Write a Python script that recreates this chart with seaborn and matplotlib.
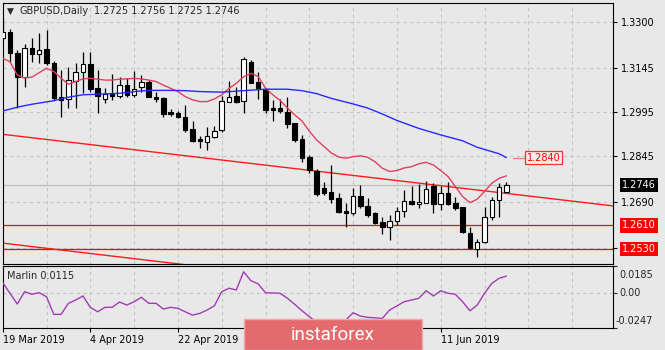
import numpy as np
import pandas as pd
import matplotlib
matplotlib.use("Agg")
import matplotlib.pyplot as plt
import matplotlib.transforms as mtrans
from matplotlib.patches import Rectangle
import seaborn as sns

# ---------------------------------------------------------------- data
symbol = "GBPUSD,Daily"
dates = pd.bdate_range("2019-03-19", periods=70)

opens = [1.3246, 1.3265, 1.3194, 1.3115, 1.3211, 1.3191, 1.3207, 1.3160, 1.3047, 1.3038,
         1.3101, 1.3130, 1.3158, 1.3075, 1.3038, 1.3058, 1.3050, 1.3086, 1.3052, 1.3079,
         1.3098, 1.3047, 1.3041, 1.2993, 1.2990, 1.2979, 1.2936, 1.2903, 1.2894, 1.2911,
         1.2932, 1.3030, 1.3050, 1.3033, 1.3163, 1.3098, 1.3072, 1.3007, 1.3007, 1.2996,
         1.2956, 1.2902, 1.2843, 1.2796, 1.2736, 1.2722, 1.2704, 1.2658, 1.2653, 1.2710,
         1.2676, 1.2651, 1.2623, 1.2604, 1.2626, 1.2659, 1.2694, 1.2683, 1.2687, 1.2744,
         1.2683, 1.2721, 1.2687, 1.2672, 1.2584, 1.2529, 1.2555, 1.2640, 1.2697, 1.2725]
highs = [1.3314, 1.3275, 1.3205, 1.3224, 1.3247, 1.3262, 1.3273, 1.3168, 1.3137, 1.3148,
         1.3160, 1.3197, 1.3197, 1.3137, 1.3075, 1.3124, 1.3115, 1.3111, 1.3135, 1.3120,
         1.3103, 1.3064, 1.3047, 1.3005, 1.2999, 1.3019, 1.2965, 1.2913, 1.2945, 1.2947,
         1.3049, 1.3101, 1.3081, 1.3180, 1.3171, 1.3132, 1.3075, 1.3036, 1.3039, 1.3045,
         1.2958, 1.2917, 1.2849, 1.2801, 1.2757, 1.2815, 1.2719, 1.2685, 1.2736, 1.2747,
         1.2702, 1.2654, 1.2640, 1.2646, 1.2672, 1.2729, 1.2744, 1.2750, 1.2762, 1.2753,
         1.2742, 1.2758, 1.2705, 1.2673, 1.2604, 1.2563, 1.2672, 1.2708, 1.2753, 1.2756]
lows = [1.3239, 1.3165, 1.3008, 1.3081, 1.3165, 1.3160, 1.3154, 1.3036, 1.2977, 1.3007,
        1.3007, 1.3058, 1.3064, 1.2991, 1.3024, 1.3036, 1.3041, 1.3047, 1.3047, 1.3064,
        1.3045, 1.3030, 1.2979, 1.2981, 1.2973, 1.2928, 1.2894, 1.2872, 1.2866, 1.2906,
        1.2928, 1.3030, 1.3024, 1.2991, 1.3092, 1.3039, 1.2991, 1.2965, 1.2991, 1.2940,
        1.2893, 1.2826, 1.2787, 1.2710, 1.2713, 1.2685, 1.2653, 1.2606, 1.2646, 1.2668,
        1.2640, 1.2616, 1.2581, 1.2559, 1.2610, 1.2640, 1.2680, 1.2668, 1.2685, 1.2651,
        1.2661, 1.2680, 1.2663, 1.2583, 1.2529, 1.2504, 1.2552, 1.2629, 1.2640, 1.2725]
closes = [1.3266, 1.3194, 1.3115, 1.3211, 1.3191, 1.3205, 1.3160, 1.3041, 1.3036, 1.3103,
          1.3132, 1.3157, 1.3072, 1.3049, 1.3056, 1.3050, 1.3086, 1.3052, 1.3072, 1.3098,
          1.3047, 1.3040, 1.2988, 1.2988, 1.2977, 1.2934, 1.2898, 1.2896, 1.2913, 1.2930,
          1.3032, 1.3047, 1.3030, 1.3173, 1.3094, 1.3072, 1.3002, 1.3002, 1.2999, 1.2954,
          1.2900, 1.2838, 1.2798, 1.2717, 1.2721, 1.2700, 1.2657, 1.2653, 1.2710, 1.2676,
          1.2646, 1.2619, 1.2606, 1.2625, 1.2660, 1.2694, 1.2682, 1.2691, 1.2734, 1.2682,
          1.2719, 1.2683, 1.2668, 1.2586, 1.2533, 1.2555, 1.2638, 1.2697, 1.2740, 1.2746]

# fast moving average (one value per bar)
ma_fast = [1.3177, 1.3165, 1.3120, 1.3110, 1.3113, 1.3128, 1.3143, 1.3132, 1.3109, 1.3089,
           1.3098, 1.3107, 1.3109, 1.3106, 1.3103, 1.3103, 1.3106, 1.3107, 1.3109, 1.3107,
           1.3103, 1.3098, 1.3086, 1.3075, 1.3064, 1.3047, 1.3036, 1.3030, 1.3030, 1.3039,
           1.3053, 1.3075, 1.3092, 1.3114, 1.3126, 1.3115, 1.3076, 1.3053, 1.3034, 1.3008,
           1.2985, 1.2964, 1.2930, 1.2900, 1.2878, 1.2856, 1.2842, 1.2838, 1.2843, 1.2846,
           1.2841, 1.2826, 1.2804, 1.2793, 1.2796, 1.2805, 1.2809, 1.2819, 1.2824, 1.2815,
           1.2796, 1.2776, 1.2742, 1.2708, 1.2687, 1.2699, 1.2725, 1.2753, 1.2770, 1.2778]

# slow moving average
ma_slow_bar = [0, 2, 4, 7, 9, 11, 13, 16, 18, 20, 23, 25, 27, 30, 33,
               36, 39, 41, 43, 45, 48, 50, 52, 54, 57, 60, 63, 65, 68, 69]
ma_slow = [1.2998, 1.3011, 1.3021, 1.3033, 1.3045, 1.3053, 1.3055, 1.3058, 1.3064, 1.3068,
           1.3068, 1.3067, 1.3064, 1.3062, 1.3067, 1.3072, 1.3072, 1.3067, 1.3057, 1.3041,
           1.3022, 1.3008, 1.2988, 1.2966, 1.2939, 1.2917, 1.2897, 1.2875, 1.2853, 1.2840]

# Marlin oscillator
marlin_bar = [0, 2, 3, 4, 5, 6, 7, 8, 9, 10,
              11, 12, 13, 14, 15, 16, 17, 18, 19, 20,
              21, 22, 23, 24, 25, 26, 27, 28, 29, 30,
              31, 32, 33, 34, 35, 36, 37, 38, 39, 40,
              41, 42, 43, 44, 45, 46, 47, 48, 49, 50,
              52, 53, 55, 56, 57, 58, 59, 60, 61, 62,
              63, 64, 65, 66, 67, 68, 69]
marlin_val = [0.0069, -0.0080, 0.0006, -0.0012, -0.0001, -0.0029, -0.0152, -0.0152, -0.0075, -0.0052,
              -0.0024, -0.0103, -0.0134, -0.0103, -0.0103, -0.0066, -0.0087, -0.0064, -0.0033, -0.0075,
              -0.0075, -0.0115, -0.0103, -0.0110, -0.0134, -0.0157, -0.0145, -0.0122, -0.0092, 0.0006,
              0.0030, 0.0018, 0.0145, 0.0083, 0.0060, -0.0001, -0.0003, -0.0005, -0.0040, -0.0082,
              -0.0127, -0.0168, -0.0205, -0.0216, -0.0209, -0.0198, -0.0191, -0.0141, -0.0164, -0.0173,
              -0.0180, -0.0122, -0.0064, -0.0052, -0.0040, 0.0013, -0.0024, 0.0013, -0.0005, -0.0012,
              -0.0064, -0.0127, -0.0087, -0.0005, 0.0064, 0.0099, 0.0115]

channel_upper_bar = [0, 84]
channel_upper = [1.2919, 1.2675]
channel_lower_bar = [0, 30]
channel_lower = [1.2550, 1.2462]
levels = [1.2610, 1.2530]
price_ticks = [1.3300, 1.3145, 1.2995, 1.2845, 1.2690, 1.2535]
marlin_ticks = [0.0185, 0.0, -0.0247]
date_ticks = [0, 12, 24, 60]

# ---------------------------------------------------------------- style
BG = "#E8E8E8"
GRID = "#C4C4C4"
sns.set_theme(style="white")
plt.rcParams["font.family"] = ["DejaVu Sans"]
plt.rcParams["axes.facecolor"] = BG
plt.rcParams["axes.edgecolor"] = "black"
plt.rcParams["axes.linewidth"] = 0.8

W, H = 665, 350
fig = plt.figure(figsize=(W / 100, H / 100), dpi=100)
fig.patch.set_facecolor(BG)


def px_rect(x0, y0, x1, y1):
    return [x0 / W, 1 - y1 / H, (x1 - x0) / W, (y1 - y0) / H]


ax = fig.add_axes(px_rect(2.7, 3, 613, 264))
ax2 = fig.add_axes(px_rect(2.7, 266, 613, 328))
for a in (ax, ax2):
    a.set_facecolor(BG)
    for s in a.spines.values():
        s.set_color("black")
        s.set_linewidth(0.8)
    a.set_xlim(0, 83.6)

dash = (0, (3, 3))
x = np.arange(len(opens))

# ---------------------------------------------------------------- main panel
ax.set_ylim(1.24791, 1.33644)
for g in range(6, 84, 6):
    ax.axvline(g, color=GRID, lw=0.8, ls=dash, zorder=0)
    ax2.axvline(g, color=GRID, lw=0.8, ls=dash, zorder=0)
for p in price_ticks:
    ax.axhline(p, color=GRID, lw=0.8, ls=dash, zorder=0)

ax.axhline(closes[-1], color="#BDBDBD", lw=0.9, zorder=1)
for lv in levels:
    ax.axhline(lv, color="#FF0000", lw=0.9, zorder=2)

sns.lineplot(x=channel_upper_bar, y=channel_upper, ax=ax, color="#FF1A1A", lw=1.0,
             estimator=None, legend=False, zorder=2)
sns.lineplot(x=channel_lower_bar, y=channel_lower, ax=ax, color="#FF1A1A", lw=1.0,
             estimator=None, legend=False, zorder=2)

o = np.array(opens)
c = np.array(closes)
ax.vlines(x, lows, highs, color="black", lw=0.9, zorder=3)
body_lo = np.minimum(o, c)
body_h = np.maximum(np.abs(c - o), 0.00006)
body_col = ["white" if cc >= oo else "black" for oo, cc in zip(o, c)]
ax.bar(x, body_h, bottom=body_lo, width=0.62, color=body_col, edgecolor="black",
       linewidth=0.8, zorder=4)

sns.lineplot(x=x, y=ma_fast, ax=ax, color="#E0405E", lw=1.0, estimator=None,
             legend=False, zorder=5)
sns.lineplot(x=ma_slow_bar, y=ma_slow, ax=ax, color="#2828FF", lw=1.0, estimator=None,
             legend=False, zorder=5)

# moving-average price label
ax.plot([69.9, 71.4], [ma_slow[-1]] * 2, color="#F08080", lw=1.0, zorder=5)
ax.text(71.75, ma_slow[-1], f"{ma_slow[-1]:.4f}", color="#FF0000", fontsize=7,
        ha="left", va="center", zorder=6,
        bbox=dict(boxstyle="square,pad=0.18", fc="#EDEDED", ec="#FF3030", lw=0.9))

ax.set_xticks([])
ax.yaxis.tick_right()
ax.set_yticks(price_ticks)
ax.set_yticklabels([f"{p:.4f}" for p in price_ticks])
ax.tick_params(axis="y", length=3, width=0.8, pad=3, labelsize=7, colors="black",
               direction="out", left=False, right=True)
ax.set_xlabel("")
ax.set_ylabel("")

tag_tf = mtrans.blended_transform_factory(ax.transAxes, ax.transData)
tag_x = (622 - 2.7) / 610.3
ax.text(tag_x, closes[-1], f"{closes[-1]:.4f}", transform=tag_tf, color="white",
        fontsize=7, ha="left", va="center", zorder=8,
        bbox=dict(boxstyle="square,pad=0.22", fc="black", ec="none"))
for lv in levels:
    ax.text(tag_x, lv, f"{lv:.4f}", transform=tag_tf, color="white", fontsize=7,
            ha="left", va="center", zorder=8,
            bbox=dict(boxstyle="square,pad=0.22", fc="#FF0000", ec="none"))

fig.text(10.5 / W, 1 - 11 / H, "▼", fontsize=6.5, ha="center", va="center")
fig.text(20 / W, 1 - 11.5 / H, symbol, fontsize=7, ha="left", va="center")
fig.text(94 / W, 1 - 11.5 / H,
         f"{opens[-1]:.4f} {highs[-1]:.4f} {lows[-1]:.4f} {closes[-1]:.4f}",
         fontsize=7, ha="left", va="center")

# ---------------------------------------------------------------- Marlin panel
ax2.set_ylim(marlin_ticks[2], marlin_ticks[0])
ax2.axhline(0, color=GRID, lw=0.8, ls=dash, zorder=0)
sns.lineplot(x=marlin_bar, y=marlin_val, ax=ax2, color="#A23CB4", lw=1.0,
             estimator=None, legend=False, zorder=3)
ax2.set_xlabel("")
ax2.set_ylabel("")
ax2.yaxis.tick_right()
ax2.set_yticks(marlin_ticks)
ax2.tick_params(axis="y", length=3, width=0.8, labelright=False, right=True, left=False)
mk_tf = mtrans.blended_transform_factory(ax2.transAxes, ax2.transAxes)
lbl_x = (619 - 2.7) / 610.3
ax2.text(lbl_x, (328 - 275) / 62, f"{marlin_ticks[0]:.4f}", transform=mk_tf,
         fontsize=7, ha="left", va="center")
ax2.text(lbl_x, (328 - 293) / 62, "0.00", transform=mk_tf, fontsize=7,
         ha="left", va="center")
ax2.text((616 - 2.7) / 610.3, (328 - 321) / 62, f"{marlin_ticks[2]:.4f}",
         transform=mk_tf, fontsize=7, ha="left", va="center")
ax2.text((7 - 2.7) / 610.3, (328 - 276) / 62, f"Marlin {marlin_val[-1]:.4f}",
         transform=mk_tf, fontsize=7, ha="left", va="center")

ax2.set_xticks(date_ticks)
ax2.set_xticklabels([f"{dates[i].day} {dates[i]:%b %Y}" for i in date_ticks], ha="left")
ax2.tick_params(axis="x", length=3, width=0.8, pad=2, labelsize=7, bottom=True,
                colors="black")

# ---------------------------------------------------------------- watermark
fig.add_artist(Rectangle((244 / W, 0), (422 - 244) / W, (350 - 319) / H,
                         transform=fig.transFigure, fc="#E36B6E", ec="#F0A8A8",
                         lw=1.0, zorder=10))
fig.text(333 / W, 1 - 340 / H, "instaforex", color="white", fontsize=13.5,
         family=["Roboto", "DejaVu Sans"], ha="center", va="baseline", zorder=11)

fig.savefig("out.png", dpi=100, facecolor=BG)
